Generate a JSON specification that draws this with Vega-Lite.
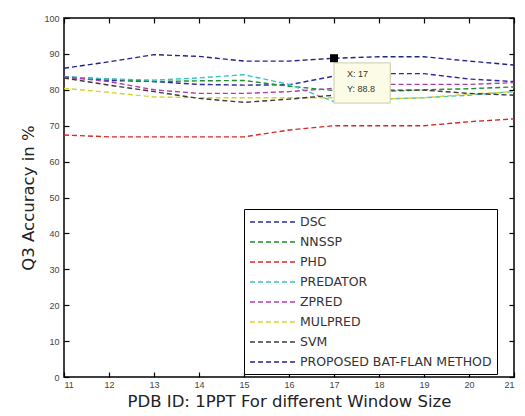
{
  "$schema": "https://vega.github.io/schema/vega-lite/v6.json",
  "width": 450,
  "height": 359,
  "autosize": {"type": "none"},
  "padding": {"left": 64, "top": 18, "right": 11, "bottom": 39},
  "background": "white",
  "config": {
    "view": {"stroke": "black", "strokeWidth": 1.5},
    "font": "Liberation Sans",
    "axis": {"grid": false, "domain": false, "tickColor": "black", "tickSize": 5, "offset": -5, "tickWidth": 1.2, "labelColor": "#444", "labelFontSize": 9, "titleFontWeight": "normal", "titleColor": "#222", "titleFont": "DejaVu Sans"}
  },
  "datasets": {
    "acc": [
      {"x": 11, "method": "DSC", "acc": 83.6}, {"x": 12, "method": "DSC", "acc": 82.6}, {"x": 13, "method": "DSC", "acc": 82.3}, {"x": 14, "method": "DSC", "acc": 81.5}, {"x": 15, "method": "DSC", "acc": 81.3}, {"x": 16, "method": "DSC", "acc": 81.4}, {"x": 17, "method": "DSC", "acc": 83.8}, {"x": 18, "method": "DSC", "acc": 84.5}, {"x": 19, "method": "DSC", "acc": 84.5}, {"x": 20, "method": "DSC", "acc": 83.0}, {"x": 21, "method": "DSC", "acc": 82.3},
      {"x": 11, "method": "NNSSP", "acc": 83.6}, {"x": 12, "method": "NNSSP", "acc": 83.0}, {"x": 13, "method": "NNSSP", "acc": 82.3}, {"x": 14, "method": "NNSSP", "acc": 82.5}, {"x": 15, "method": "NNSSP", "acc": 82.6}, {"x": 16, "method": "NNSSP", "acc": 81.0}, {"x": 17, "method": "NNSSP", "acc": 79.8}, {"x": 18, "method": "NNSSP", "acc": 79.5}, {"x": 19, "method": "NNSSP", "acc": 80.0}, {"x": 20, "method": "NNSSP", "acc": 80.3}, {"x": 21, "method": "NNSSP", "acc": 80.8},
      {"x": 11, "method": "PHD", "acc": 67.4}, {"x": 12, "method": "PHD", "acc": 66.9}, {"x": 13, "method": "PHD", "acc": 66.9}, {"x": 14, "method": "PHD", "acc": 66.9}, {"x": 15, "method": "PHD", "acc": 66.9}, {"x": 16, "method": "PHD", "acc": 68.8}, {"x": 17, "method": "PHD", "acc": 70.0}, {"x": 18, "method": "PHD", "acc": 70.0}, {"x": 19, "method": "PHD", "acc": 70.0}, {"x": 20, "method": "PHD", "acc": 71.1}, {"x": 21, "method": "PHD", "acc": 71.9},
      {"x": 11, "method": "PREDATOR", "acc": 83.6}, {"x": 12, "method": "PREDATOR", "acc": 83.0}, {"x": 13, "method": "PREDATOR", "acc": 82.7}, {"x": 14, "method": "PREDATOR", "acc": 83.3}, {"x": 15, "method": "PREDATOR", "acc": 84.2}, {"x": 16, "method": "PREDATOR", "acc": 81.5}, {"x": 17, "method": "PREDATOR", "acc": 76.7}, {"x": 18, "method": "PREDATOR", "acc": 77.4}, {"x": 19, "method": "PREDATOR", "acc": 77.8}, {"x": 20, "method": "PREDATOR", "acc": 78.5}, {"x": 21, "method": "PREDATOR", "acc": 79.5},
      {"x": 11, "method": "ZPRED", "acc": 83.6}, {"x": 12, "method": "ZPRED", "acc": 82.3}, {"x": 13, "method": "ZPRED", "acc": 80.0}, {"x": 14, "method": "ZPRED", "acc": 79.0}, {"x": 15, "method": "ZPRED", "acc": 79.0}, {"x": 16, "method": "ZPRED", "acc": 79.5}, {"x": 17, "method": "ZPRED", "acc": 80.4}, {"x": 18, "method": "ZPRED", "acc": 81.5}, {"x": 19, "method": "ZPRED", "acc": 81.5}, {"x": 20, "method": "ZPRED", "acc": 81.5}, {"x": 21, "method": "ZPRED", "acc": 82.0},
      {"x": 11, "method": "MULPRED", "acc": 80.4}, {"x": 12, "method": "MULPRED", "acc": 79.3}, {"x": 13, "method": "MULPRED", "acc": 78.0}, {"x": 14, "method": "MULPRED", "acc": 77.8}, {"x": 15, "method": "MULPRED", "acc": 77.8}, {"x": 16, "method": "MULPRED", "acc": 77.8}, {"x": 17, "method": "MULPRED", "acc": 77.8}, {"x": 18, "method": "MULPRED", "acc": 77.4}, {"x": 19, "method": "MULPRED", "acc": 77.8}, {"x": 20, "method": "MULPRED", "acc": 78.8}, {"x": 21, "method": "MULPRED", "acc": 79.5},
      {"x": 11, "method": "SVM", "acc": 83.3}, {"x": 12, "method": "SVM", "acc": 81.3}, {"x": 13, "method": "SVM", "acc": 79.5}, {"x": 14, "method": "SVM", "acc": 77.6}, {"x": 15, "method": "SVM", "acc": 76.5}, {"x": 16, "method": "SVM", "acc": 77.4}, {"x": 17, "method": "SVM", "acc": 78.5}, {"x": 18, "method": "SVM", "acc": 79.9}, {"x": 19, "method": "SVM", "acc": 79.9}, {"x": 20, "method": "SVM", "acc": 79.0}, {"x": 21, "method": "SVM", "acc": 78.5},
      {"x": 11, "method": "PROPOSED BAT-FLAN METHOD", "acc": 86.0}, {"x": 12, "method": "PROPOSED BAT-FLAN METHOD", "acc": 87.8}, {"x": 13, "method": "PROPOSED BAT-FLAN METHOD", "acc": 89.8}, {"x": 14, "method": "PROPOSED BAT-FLAN METHOD", "acc": 89.3}, {"x": 15, "method": "PROPOSED BAT-FLAN METHOD", "acc": 88.0}, {"x": 16, "method": "PROPOSED BAT-FLAN METHOD", "acc": 88.0}, {"x": 17, "method": "PROPOSED BAT-FLAN METHOD", "acc": 88.8}, {"x": 18, "method": "PROPOSED BAT-FLAN METHOD", "acc": 89.2}, {"x": 19, "method": "PROPOSED BAT-FLAN METHOD", "acc": 89.2}, {"x": 20, "method": "PROPOSED BAT-FLAN METHOD", "acc": 88.0}, {"x": 21, "method": "PROPOSED BAT-FLAN METHOD", "acc": 86.9}
    ],
    "tip": [{"x": 17, "acc": 88.8, "x2": 18.25, "y1": 87.5, "y2": 76.3, "l1": "X: 17", "l2": "Y: 88.8"}]
  },
  "resolve": {"axis": {"x": "independent", "y": "independent"}},
  "layer": [
    {
      "data": {"name": "acc"},
      "mark": {"type": "line", "strokeDash": [5, 3], "strokeWidth": 1.4},
      "encoding": {
        "x": {"field": "x", "type": "quantitative", "scale": {"domain": [11, 21], "nice": false},
          "axis": {"values": [11, 12, 13, 14, 15, 16, 17, 18, 19, 20, 21], "title": "PDB ID: 1PPT For different Window Size", "titleFontSize": 16.5, "titlePadding": 4, "labelPadding": 3}},
        "y": {"field": "acc", "type": "quantitative", "scale": {"domain": [0, 100], "nice": false},
          "axis": {"values": [0, 10, 20, 30, 40, 50, 60, 70, 80, 90, 100], "title": "Q3 Accuracy in %", "titleFontSize": 16.5, "titlePadding": 7, "labelPadding": 5}},
        "color": {"field": "method", "type": "nominal",
          "scale": {"domain": ["DSC", "NNSSP", "PHD", "PREDATOR", "ZPRED", "MULPRED", "SVM", "PROPOSED BAT-FLAN METHOD"],
            "range": ["#2b2b9e", "#1f8f2a", "#d42a2a", "#3ac4c8", "#b03cb0", "#d8d230", "#3c3c3c", "#22228a"]},
          "legend": {"orient": "none", "legendX": 180, "legendY": 191, "title": null, "symbolType": "M-1,0H5.5", "symbolDash": [5, 3], "symbolStrokeWidth": 1.4, "symbolSize": 196, "symbolFillColor": "transparent", "labelFont": "DejaVu Sans", "labelFontSize": 12.5, "labelColor": "#333", "labelOffset": 35, "fillColor": "white", "strokeColor": "black", "padding": 5, "rowPadding": 5, "labelLimit": 300, "symbolOffset": 0}},
        "order": {"field": "x", "type": "quantitative"}
      }
    },
    {
      "data": {"name": "acc"},
      "mark": {"type": "rule", "opacity": 0},
      "encoding": {
        "x": {"field": "x", "type": "quantitative", "axis": {"orient": "top", "labels": false, "title": null, "values": [11, 12, 13, 14, 15, 16, 17, 18, 19, 20, 21]}},
        "y": {"field": "acc", "type": "quantitative", "axis": {"orient": "right", "labels": false, "title": null, "values": [0, 10, 20, 30, 40, 50, 60, 70, 80, 90, 100]}}
      }
    },
    {
      "data": {"name": "tip"},
      "mark": {"type": "rect", "fill": "#fbfbe6", "stroke": "#ccccaa", "strokeWidth": 1},
      "encoding": {"x": {"field": "x", "type": "quantitative", "axis": null}, "x2": {"field": "x2"}, "y": {"field": "y1", "type": "quantitative", "axis": null}, "y2": {"field": "y2"}}
    },
    {
      "data": {"name": "tip"},
      "mark": {"type": "text", "align": "left", "fontSize": 9, "color": "#333", "dx": 13, "dy": 16},
      "encoding": {"x": {"field": "x", "type": "quantitative", "axis": null}, "y": {"field": "acc", "type": "quantitative", "axis": null}, "text": {"field": "l1"}}
    },
    {
      "data": {"name": "tip"},
      "mark": {"type": "text", "align": "left", "fontSize": 9, "color": "#333", "dx": 13, "dy": 31},
      "encoding": {"x": {"field": "x", "type": "quantitative", "axis": null}, "y": {"field": "acc", "type": "quantitative", "axis": null}, "text": {"field": "l2"}}
    },
    {
      "data": {"name": "tip"},
      "mark": {"type": "square", "color": "black", "opacity": 1, "size": 64},
      "encoding": {"x": {"field": "x", "type": "quantitative", "axis": null}, "y": {"field": "acc", "type": "quantitative", "axis": null}}
    }
  ]
}
